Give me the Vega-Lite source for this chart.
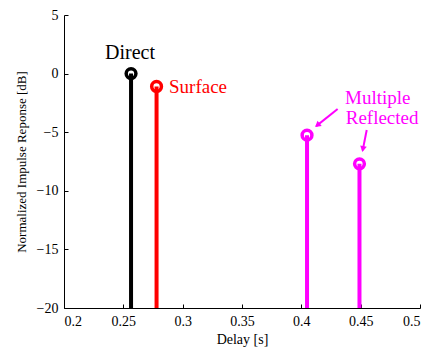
{
  "$schema": "https://vega.github.io/schema/vega-lite/v6.json",
  "width": 356,
  "height": 293,
  "autosize": "none",
  "padding": {"left": 64, "top": 15, "right": 14, "bottom": 39},
  "background": "white",
  "config": {
    "view": {"stroke": null},
    "font": "'Liberation Serif', 'Times New Roman', serif",
    "text": {"font": "'Liberation Serif', 'Times New Roman', serif"},
    "axis": {
      "grid": false,
      "domainColor": "black",
      "domainWidth": 1,
      "tickColor": "black",
      "tickSize": -4,
      "labelColor": "black",
      "labelFontSize": 14,
      "labelFont": "'Liberation Serif', 'Times New Roman', serif",
      "titleFont": "'Liberation Serif', 'Times New Roman', serif",
      "titleColor": "black",
      "titleFontWeight": "normal",
      "titleFontSize": 13
    }
  },
  "datasets": {
    "stems": [
      {"delay": 0.2565, "level": 0, "kind": "Direct"},
      {"delay": 0.278, "level": -1.1, "kind": "Surface"},
      {"delay": 0.4048, "level": -5.25, "kind": "Multiple"},
      {"delay": 0.449, "level": -7.7, "kind": "Multiple"}
    ],
    "labels": [
      {"delay": 0.2556, "level": 1.76, "text": "Direct", "kind": "Direct", "pos": "center"},
      {"delay": 0.2885, "level": -1.14, "text": "Surface", "kind": "Surface", "pos": "left"},
      {"delay": 0.4368, "level": -2.08, "text": "Multiple", "kind": "Multiple", "pos": "left"},
      {"delay": 0.4374, "level": -3.76, "text": "Reflected", "kind": "Multiple", "pos": "left"}
    ],
    "arrows": [
      {"id": 1, "x0": 0.4306, "y0": -3.02, "x1": 0.4125, "y1": -4.48},
      {"id": 2, "x0": 0.4551, "y0": -4.81, "x1": 0.4517, "y1": -6.55}
    ],
    "heads": [
      {"id": 1, "x": 0.4135, "y": -4.40},
      {"id": 2, "x": 0.4519, "y": -6.44}
    ]
  },
  "layer": [
    {
      "data": {"name": "stems"},
      "mark": {"type": "rule", "strokeWidth": 4},
      "encoding": {
        "x": {"field": "delay", "type": "quantitative", "scale": {"domain": [0.2, 0.5], "nice": false, "zero": false},
          "axis": {"values": [0.2, 0.25, 0.3, 0.35, 0.4, 0.45, 0.5], "format": "~g", "title": "Delay [s]", "labelPadding": 10, "titlePadding": 4, "titleFontSize": 14}},
        "y": {"field": "level", "type": "quantitative", "scale": {"domain": [-20, 5], "nice": false, "zero": false},
          "axis": {"values": [-20, -15, -10, -5, 0, 5], "format": "d", "title": "Normalized Impulse Reponse [dB]", "labelPadding": 10, "titlePadding": 8}},
        "y2": {"datum": -20},
        "color": {"field": "kind", "type": "nominal", "scale": {"domain": ["Direct", "Surface", "Multiple"], "range": ["#000000", "#ff0000", "#ff00ff"]}, "legend": null}
      }
    },
    {
      "data": {"name": "stems"},
      "mark": {"type": "point", "filled": false, "size": 95, "strokeWidth": 3.5, "opacity": 1},
      "encoding": {
        "x": {"field": "delay", "type": "quantitative"},
        "y": {"field": "level", "type": "quantitative"},
        "color": {"field": "kind", "type": "nominal", "legend": null}
      }
    },
    {
      "data": {"name": "labels"},
      "transform": [{"filter": "datum.pos === 'center'"}],
      "mark": {"type": "text", "fontSize": 20, "align": "center", "baseline": "middle", "font": "'Liberation Serif', 'Times New Roman', serif"},
      "encoding": {
        "x": {"field": "delay", "type": "quantitative"},
        "y": {"field": "level", "type": "quantitative"},
        "text": {"field": "text"},
        "color": {"field": "kind", "type": "nominal", "legend": null}
      }
    },
    {
      "data": {"name": "labels"},
      "transform": [{"filter": "datum.pos === 'left'"}],
      "mark": {"type": "text", "fontSize": 19, "align": "left", "baseline": "middle", "font": "'Liberation Serif', 'Times New Roman', serif"},
      "encoding": {
        "x": {"field": "delay", "type": "quantitative"},
        "y": {"field": "level", "type": "quantitative"},
        "text": {"field": "text"},
        "color": {"field": "kind", "type": "nominal", "legend": null}
      }
    },
    {
      "data": {"name": "arrows"},
      "mark": {"type": "rule", "strokeWidth": 2, "color": "#ff00ff"},
      "encoding": {
        "x": {"field": "x0", "type": "quantitative"},
        "y": {"field": "y0", "type": "quantitative"},
        "x2": {"field": "x1"},
        "y2": {"field": "y1"}
      }
    },
    {
      "data": {"name": "heads"},
      "transform": [{"filter": "datum.id === 1"}],
      "mark": {"type": "point", "shape": "triangle-up", "filled": true, "color": "#ff00ff", "size": 45, "angle": 231, "opacity": 1},
      "encoding": {
        "x": {"field": "x", "type": "quantitative"},
        "y": {"field": "y", "type": "quantitative"}
      }
    },
    {
      "data": {"name": "heads"},
      "transform": [{"filter": "datum.id === 2"}],
      "mark": {"type": "point", "shape": "triangle-up", "filled": true, "color": "#ff00ff", "size": 45, "angle": 191, "opacity": 1},
      "encoding": {
        "x": {"field": "x", "type": "quantitative"},
        "y": {"field": "y", "type": "quantitative"}
      }
    }
  ]
}
